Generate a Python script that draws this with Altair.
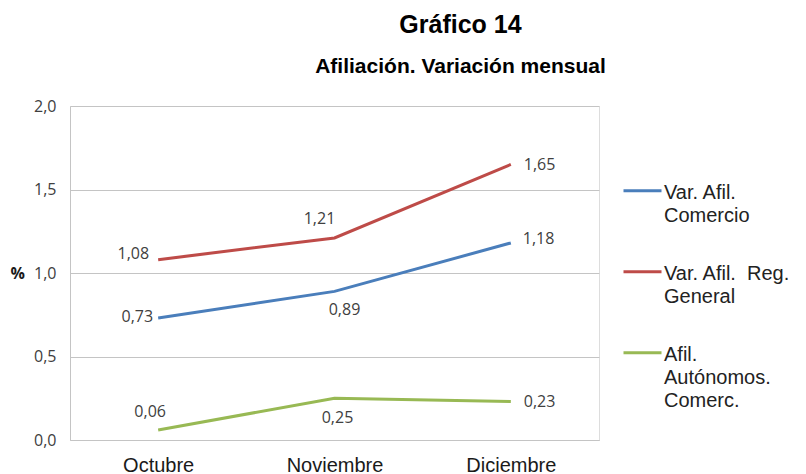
import altair as alt
import pandas as pd

# ---- data ----
meses = ["Octubre", "Noviembre", "Diciembre"]
series = ["Var. Afil. Comercio", "Var. Afil.  Reg. General", " Afil. Autónomos. Comerc."]
comercio = [0.73, 0.89, 1.18]
reg_general = [1.08, 1.21, 1.65]
autonomos = [0.06, 0.25, 0.23]
colores = ["#4A7EBB", "#BE4B48", "#98B954"]
leyenda_lineas = [["Var. Afil.", "Comercio"],
                  ["Var. Afil.\u00a0 Reg.", "General"],
                  ["\u00a0Afil.", "Autónomos.", "Comerc."]]

rows = []
for s, vals in zip(series, [comercio, reg_general, autonomos]):
    for m, v in zip(meses, vals):
        rows.append({"serie": s, "mes": m, "valor": v,
                     "etiqueta": f"{v:.2f}".replace(".", ",")})
df = pd.DataFrame(rows)

# legend label expression (multi-line)
def _arr(lines):
    return "[" + ",".join("'" + l + "'" for l in lines) + "]"

label_expr = ""
for s, lines in zip(series, leyenda_lineas):
    label_expr += f"datum.label == '{s}' ? {_arr(lines)} : "
label_expr += "datum.label"

GRID = "#c4c4c4"
LABEL_FONT = "Open Sans"

base = alt.Chart(df).encode(
    x=alt.X("mes:N", sort=meses, title=None,
            axis=alt.Axis(labelAngle=0, labelFont="Liberation Sans", labelFontSize=20,
                          labelColor="#1a1a1a", labelPadding=15, ticks=False,
                          domain=True, domainColor=GRID, grid=False)),
    y=alt.Y("valor:Q", scale=alt.Scale(domain=[0, 2]), title="%",
            axis=alt.Axis(values=[0, 0.5, 1.0, 1.5, 2.0],
                          labelExpr="replace(format(datum.value, '.1f'), '.', ',')",
                          labelFont=LABEL_FONT, labelFontSize=16, labelColor="#404040",
                          labelPadding=14, ticks=False, domain=True, domainColor=GRID,
                          grid=True, gridColor=GRID, gridWidth=1,
                          titleAngle=0, titleX=-60, titleY=167, titleAlign="left",
                          titleBaseline="middle", titleFont=LABEL_FONT, titleFontSize=16,
                          titleFontWeight="bold", titleColor="#1a1a1a")),
)

lines = base.mark_line(strokeWidth=3).encode(
    color=alt.Color("serie:N", sort=series,
                    scale=alt.Scale(domain=series, range=colores),
                    legend=alt.Legend(title=None, orient="none", legendX=552, legendY=56,
                                      direction="vertical",
                                      symbolType="M-1,0.43L1,0.43", symbolSize=1444,
                                      symbolStrokeWidth=3, labelFont="Liberation Sans",
                                      labelFontSize=20, labelColor="#222222",
                                      labelBaseline="top", labelOffset=1, labelLimit=300,
                                      rowPadding=17, padding=0, labelExpr=label_expr))
)

# data labels: (series index, month index, dx, dy, align)
placements = [
    (0, 0, -5, -1, "right"),
    (1, 0, -9, -6, "right"),
    (2, 0, -8, -18, "center"),
    (0, 1, 10, 19, "center"),
    (1, 1, -15, -19, "center"),
    (2, 1, 3, 20, "center"),
    (0, 2, 12, -4, "left"),
    (1, 2, 13, 1, "left"),
    (2, 2, 13, 0, "left"),
]

labels = []
for si, mi, dx, dy, al in placements:
    labels.append(
        base.mark_text(dx=dx, dy=dy, align=al, baseline="middle", font=LABEL_FONT,
                       fontSize=16, color="#404040")
        .encode(text="etiqueta:N")
        .transform_filter((alt.datum.serie == series[si]) & (alt.datum.mes == meses[mi]))
    )

chart = alt.layer(lines, *labels).properties(
    width=529, height=334,
    padding={"left": 2, "top": 5, "right": 5, "bottom": 0},
    title=alt.TitleParams(text="Gráfico 14", subtitle="Afiliación. Variación mensual",
                          anchor="middle", frame="group", dx=126,
                          font="Liberation Sans", fontSize=25, fontWeight="bold", color="#000000",
                          subtitleFont="Liberation Sans", subtitleFontSize=21,
                          subtitleFontWeight="bold", subtitleColor="#000000",
                          subtitlePadding=18, offset=21),
).configure_view(strokeWidth=0).configure(
    style={"guide-label": {"lineHeight": 23}}
)

chart.save("out.html", embed_options={"renderer": "svg", "actions": False})
